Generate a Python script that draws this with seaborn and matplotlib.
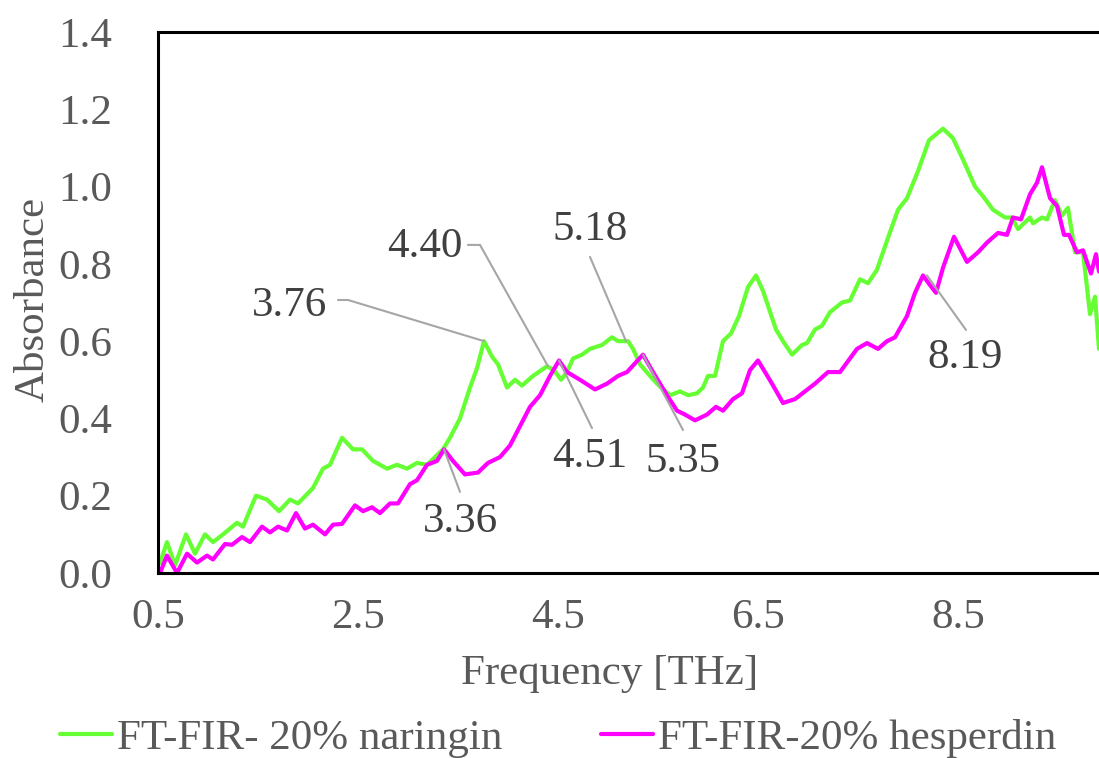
import numpy as np
import pandas as pd
import matplotlib
matplotlib.use("Agg")
import matplotlib.pyplot as plt
from matplotlib.ticker import FormatStrFormatter
from matplotlib.lines import Line2D
import seaborn as sns

# ---- data ----
nar_freq = [0.52, 0.59, 0.67, 0.78, 0.87, 0.97, 1.05, 1.15, 1.29, 1.35, 1.48, 1.59, 1.71, 1.82, 1.90,
            2.05, 2.15, 2.22, 2.34, 2.45, 2.54, 2.65, 2.79, 2.89, 2.99, 3.09, 3.19, 3.35, 3.42, 3.52,
            3.62, 3.69, 3.76, 3.84, 3.90, 3.99, 4.07, 4.14, 4.25, 4.39, 4.46, 4.53, 4.59, 4.65, 4.74,
            4.82, 4.94, 5.04, 5.10, 5.20, 5.25, 5.32, 5.42, 5.49, 5.62, 5.72, 5.80, 5.89, 5.95, 6.00,
            6.07, 6.15, 6.23, 6.31, 6.40, 6.48, 6.55, 6.68, 6.75, 6.84, 6.94, 6.99, 7.07, 7.14, 7.22,
            7.34, 7.42, 7.52, 7.60, 7.69, 7.79, 7.90, 7.99, 8.10, 8.21, 8.35, 8.45, 8.55, 8.67, 8.75,
            8.85, 8.97, 9.04, 9.10, 9.22, 9.25, 9.34, 9.39, 9.47, 9.54, 9.60, 9.67, 9.75, 9.82, 9.87,
            9.91]
nar_abs = [0.026, 0.08, 0.02, 0.10, 0.05, 0.10, 0.08, 0.10, 0.13, 0.12, 0.20, 0.19, 0.16, 0.19, 0.18,
           0.22, 0.27, 0.28, 0.35, 0.32, 0.32, 0.29, 0.27, 0.28, 0.27, 0.285, 0.28, 0.32, 0.35, 0.40,
           0.48, 0.53, 0.60, 0.56, 0.54, 0.48, 0.50, 0.485, 0.51, 0.535, 0.525, 0.50, 0.52, 0.555, 0.565,
           0.58, 0.59, 0.61, 0.60, 0.60, 0.58, 0.54, 0.51, 0.49, 0.46, 0.47, 0.46, 0.465, 0.48, 0.51,
           0.51, 0.60, 0.62, 0.665, 0.74, 0.77, 0.73, 0.63, 0.60, 0.565, 0.59, 0.595, 0.63, 0.64, 0.675,
           0.70, 0.705, 0.76, 0.75, 0.785, 0.86, 0.94, 0.97, 1.04, 1.12, 1.15, 1.125, 1.07, 1.00, 0.975,
           0.94, 0.92, 0.92, 0.89, 0.92, 0.905, 0.92, 0.915, 0.965, 0.925, 0.945, 0.83, 0.83, 0.67, 0.715,
           0.58]

hes_freq = [0.52, 0.59, 0.69, 0.79, 0.89, 0.99, 1.05, 1.17, 1.24, 1.34, 1.42, 1.54, 1.62, 1.70, 1.79,
            1.88, 1.97, 2.05, 2.17, 2.25, 2.34, 2.47, 2.55, 2.64, 2.72, 2.82, 2.90, 3.02, 3.09, 3.19,
            3.29, 3.36, 3.45, 3.57, 3.70, 3.80, 3.92, 4.02, 4.10, 4.22, 4.32, 4.42, 4.51, 4.59, 4.72,
            4.87, 4.99, 5.10, 5.19, 5.35, 5.45, 5.59, 5.69, 5.77, 5.87, 5.99, 6.08, 6.15, 6.25, 6.34,
            6.42, 6.50, 6.64, 6.75, 6.87, 6.97, 7.07, 7.20, 7.32, 7.49, 7.59, 7.70, 7.79, 7.87, 7.99,
            8.07, 8.15, 8.22, 8.28, 8.35, 8.46, 8.59, 8.70, 8.79, 8.90, 8.99, 9.05, 9.13, 9.22, 9.29,
            9.34, 9.42, 9.49, 9.56, 9.61, 9.69, 9.75, 9.83, 9.88, 9.91]
hes_abs = [0.0, 0.045, 0.0, 0.05, 0.027, 0.045, 0.035, 0.075, 0.073, 0.093, 0.08, 0.12, 0.105, 0.12, 0.11,
           0.155, 0.115, 0.125, 0.10, 0.125, 0.127, 0.175, 0.16, 0.17, 0.155, 0.18, 0.18, 0.23, 0.24, 0.28,
           0.29, 0.32, 0.29, 0.255, 0.26, 0.285, 0.30, 0.33, 0.37, 0.43, 0.46, 0.51, 0.55, 0.52, 0.50,
           0.475, 0.49, 0.51, 0.52, 0.565, 0.52, 0.46, 0.42, 0.41, 0.395, 0.41, 0.43, 0.42, 0.45, 0.465,
           0.525, 0.55, 0.49, 0.44, 0.45, 0.47, 0.49, 0.52, 0.52, 0.58, 0.595, 0.58, 0.60, 0.61, 0.665,
           0.725, 0.77, 0.745, 0.725, 0.79, 0.87, 0.805, 0.83, 0.855, 0.88, 0.875, 0.92, 0.915, 0.98, 1.01,
           1.05, 0.97, 0.95, 0.875, 0.875, 0.83, 0.835, 0.775, 0.825, 0.78]

series_names = ["FT-FIR- 20% naringin", "FT-FIR-20% hesperdin"]
series_colors = ["#66ff33", "#ff00ff"]

x_ticks = [0.5, 2.5, 4.5, 6.5, 8.5]
y_ticks = [0.0, 0.2, 0.4, 0.6, 0.8, 1.0, 1.2, 1.4]

# peak annotations: label, peak x, peak y
peak_labels = ["3.76", "4.40", "5.18", "4.51", "5.35", "3.36", "8.19"]
peak_x = [3.76, 4.40, 5.18, 4.51, 5.35, 3.36, 8.19]
peak_y = [0.60, 0.535, 0.60, 0.55, 0.565, 0.32, 0.77]

# ---- layout of the annotations (text position, leader start, optional elbow) ----
text_pos = [(1.82, 0.691), (3.17, 0.844), (4.82, 0.888), (4.82, 0.300), (5.75, 0.287), (3.52, 0.132), (8.57, 0.556)]
lead_start = [(2.30, 0.7065), (3.60, 0.849), (4.82, 0.818), (4.84, 0.375), (5.75, 0.37), (3.52, 0.21), (8.58, 0.629)]
lead_elbow = [(2.40, 0.7065), (3.72, 0.849), None, None, None, None, None]

df = pd.concat([
    pd.DataFrame({"Frequency": nar_freq, "Absorbance": nar_abs, "series": series_names[0]}),
    pd.DataFrame({"Frequency": hes_freq, "Absorbance": hes_abs, "series": series_names[1]}),
], ignore_index=True)

sns.set_theme(style="white")
plt.rcParams["font.family"] = ["Liberation Serif", "DejaVu Serif"]

FS = 31
text_gray = "#595959"
fig = plt.figure(figsize=(10.99, 7.58), dpi=100)
ax = fig.add_axes([158 / 1099, 1 - 573 / 758, 1 - 158 / 1099, (573 - 32) / 758])

sns.lineplot(data=df, x="Frequency", y="Absorbance", hue="series",
             palette=dict(zip(series_names, series_colors)), linewidth=3.0,
             sort=False, estimator=None, ax=ax, legend=False)
for ln in ax.lines:
    ln.set_solid_joinstyle("round")
    ln.set_solid_capstyle("round")

ax.set_xlim(0.5, 9.91)
ax.set_ylim(0, 1.4)
ax.set_xticks(x_ticks)
ax.set_yticks(y_ticks)
ax.xaxis.set_major_formatter(FormatStrFormatter("%.1f"))
ax.yaxis.set_major_formatter(FormatStrFormatter("%.1f"))

for side in ["left", "bottom", "top"]:
    ax.spines[side].set_visible(True)
    ax.spines[side].set_color("black")
    ax.spines[side].set_linewidth(2.2)
ax.spines["right"].set_visible(False)

ax.tick_params(axis="x", direction="inout", length=16, width=1.8, color="black",
               labelsize=FS, labelcolor=text_gray, pad=10)
ax.tick_params(axis="y", direction="inout", length=16, width=1.8, color="black",
               labelsize=FS, labelcolor=text_gray, pad=25)

ax.set_xlabel("Frequency [THz]", fontsize=FS, color=text_gray)
ax.set_ylabel("Absorbance", fontsize=FS, color=text_gray)
ax.xaxis.set_label_coords(0.48, -0.15)
ax.yaxis.set_label_coords(-0.112, 0.505)

lead_color = "#a6a6a6"
for lab, px, py, tp, ls, le in zip(peak_labels, peak_x, peak_y, text_pos, lead_start, lead_elbow):
    ax.text(tp[0], tp[1], lab, fontsize=FS, color="#404040", ha="center", va="center")
    if le is not None:
        ax.annotate("", xy=le, xytext=ls,
                    arrowprops=dict(arrowstyle="-", color=lead_color, lw=1.5, shrinkA=0, shrinkB=0))
        start = le
    else:
        start = ls
    ax.annotate("", xy=(px, py), xytext=start,
                arrowprops=dict(arrowstyle="-", color=lead_color, lw=1.5, shrinkA=0, shrinkB=0))

handles = [Line2D([0], [0], color=c, lw=3.0) for c in series_colors]
leg = fig.legend(handles, series_names, loc="center", bbox_to_anchor=(0.508, 1 - 738 / 758),
                 ncol=2, frameon=False, fontsize=FS, handlelength=1.2, handletextpad=0.12,
                 columnspacing=2.3, borderaxespad=0)
for t in leg.get_texts():
    t.set_color(text_gray)

fig.savefig("out.png", dpi=100)
